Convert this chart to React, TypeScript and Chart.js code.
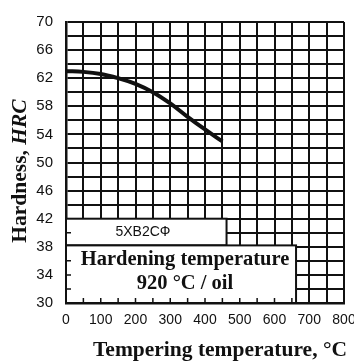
import React, { useEffect, useRef } from "react";
import { Chart, registerables } from "chart.js";

Chart.register(...registerables);

const temps = [0, 50, 100, 150, 200, 250, 300, 350, 400, 450];
const hardness = [63, 62.9, 62.6, 62.0, 61.2, 60.0, 58.4, 56.5, 54.7, 53.0];
const steelName = "5XB2CФ";
const noteLine1 = "Hardening temperature";
const noteLine2 = "920 °C / oil";
const xTitle = "Tempering temperature, °C";
const yTitleMain = "Hardness, ";
const yTitleItalic = "HRC";

const boxesPlugin = {
  id: "boxes",
  beforeDatasetsDraw(chart: any) {
    const { ctx, scales } = chart;
    const xs = scales.x;
    const ys = scales.y;
    const left = xs.getPixelForValue(0);
    const bottom = ys.getPixelForValue(30);
    ctx.save();
    ctx.strokeStyle = "#111";
    ctx.lineWidth = 2;
    const b1Top = ys.getPixelForValue(42);
    const b1Bot = ys.getPixelForValue(38.2);
    const b1Right = xs.getPixelForValue(462);
    ctx.fillStyle = "#fff";
    ctx.fillRect(left, b1Top, b1Right - left, b1Bot - b1Top);
    ctx.strokeRect(left, b1Top, b1Right - left, b1Bot - b1Top);
    const b2Top = b1Bot;
    const b2Right = xs.getPixelForValue(662);
    ctx.fillRect(left, b2Top, b2Right - left, bottom - b2Top);
    ctx.strokeRect(left, b2Top, b2Right - left, bottom - b2Top);
    ctx.lineWidth = 1.5;
    ctx.beginPath();
    for (const v of [32, 34, 36, 40]) {
      const y = ys.getPixelForValue(v);
      ctx.moveTo(left, y);
      ctx.lineTo(left + 5, y);
    }
    for (let t = 50; t <= 650; t += 50) {
      const x = xs.getPixelForValue(t);
      ctx.moveTo(x, bottom);
      ctx.lineTo(x, bottom - 5);
    }
    ctx.stroke();
    ctx.fillStyle = "#111";
    ctx.textAlign = "center";
    ctx.textBaseline = "middle";
    ctx.font = "14px 'Liberation Sans', Arial, sans-serif";
    ctx.fillText(steelName, 143, (b1Top + b1Bot) / 2);
    ctx.font = "bold 20.5px 'Liberation Serif', 'Times New Roman', serif";
    ctx.fillText(noteLine1, 185, 260);
    ctx.fillText(noteLine2, 185, 284);
    ctx.restore();
  },
  afterDraw(chart: any) {
    const { ctx } = chart;
    ctx.save();
    ctx.fillStyle = "#111";
    ctx.textBaseline = "middle";
    ctx.textAlign = "center";
    ctx.font = "bold 21.5px 'Liberation Serif', 'Times New Roman', serif";
    ctx.fillText(xTitle, 220, 350);
    ctx.translate(20, 171);
    ctx.rotate(-Math.PI / 2);
    const f1 = "bold 21.5px 'Liberation Serif', 'Times New Roman', serif";
    const f2 = "bold italic 21.5px 'Liberation Serif', 'Times New Roman', serif";
    ctx.font = f1;
    const w1 = ctx.measureText(yTitleMain).width;
    ctx.font = f2;
    const w2 = ctx.measureText(yTitleItalic).width;
    const start = -(w1 + w2) / 2;
    ctx.textAlign = "left";
    ctx.font = f1;
    ctx.fillText(yTitleMain, start, 0);
    ctx.font = f2;
    ctx.fillText(yTitleItalic, start + w1, 0);
    ctx.restore();
  },
};

export default function App() {
  const ref = useRef<HTMLCanvasElement | null>(null);
  useEffect(() => {
    document.body.style.margin = "0";
    const chart = new Chart(ref.current!, {
      type: "line",
      data: {
        datasets: [
          {
            data: temps.map((t, i) => ({ x: t, y: hardness[i] })),
            borderColor: "#111",
            borderWidth: 4,
            pointRadius: 0,
            tension: 0.4,
            fill: false,
          },
        ],
      },
      options: {
        animation: false,
        responsive: true,
        maintainAspectRatio: false,
        layout: { padding: { top: 18, right: 1, left: 0, bottom: 0 } },
        plugins: { legend: { display: false }, tooltip: { enabled: false } },
        scales: {
          x: {
            type: "linear",
            min: 0,
            max: 800,
            afterFit(s: any) {
              s.height = 59;
              s.paddingRight = 10;
            },
            ticks: {
              stepSize: 50,
              autoSkip: false,
              maxRotation: 0,
              padding: 9,
              color: "#111",
              font: { family: "'Liberation Sans Narrow', 'Liberation Sans', Arial", size: 14 },
              callback: (v: any) => (Number(v) % 100 === 0 ? String(v) : ""),
            },
            grid: { color: "#111", lineWidth: 2, drawTicks: false },
            border: { color: "#111", width: 2.5 },
          },
          y: {
            min: 30,
            max: 70,
            afterFit(s: any) {
              s.width = 66;
            },
            ticks: {
              stepSize: 2,
              autoSkip: false,
              padding: 13,
              color: "#111",
              font: { family: "'Liberation Sans', Arial", size: 15 },
              callback: (v: any) => (Number(v) % 4 === 2 ? String(v) : ""),
            },
            grid: { color: "#111", lineWidth: 2, drawTicks: false },
            border: { color: "#111", width: 2.5 },
          },
        },
      },
      plugins: [boxesPlugin],
    });
    return () => chart.destroy();
  }, []);
  return (
    <div style={{ position: "fixed", left: 0, top: 0, width: 354, height: 362 }}>
      <canvas ref={ref} />
    </div>
  );
}
